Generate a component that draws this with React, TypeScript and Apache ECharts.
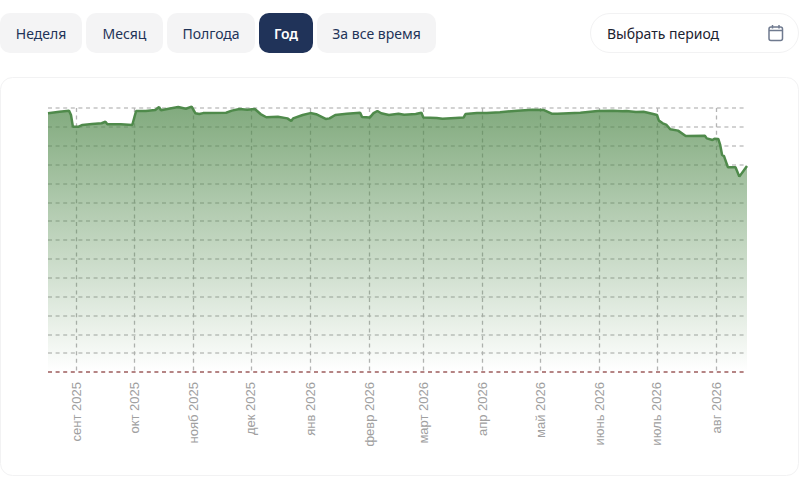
import React, { useEffect, useRef } from "react";
import * as echarts from "echarts";

const tabs = ["Неделя", "Месяц", "Полгода", "Год", "За все время"];
const periodLabel = "Выбрать период";
const monthStarts = ["2025-09-01", "2025-10-01", "2025-11-01", "2025-12-01", "2026-01-01", "2026-02-01", "2026-03-01", "2026-04-01", "2026-05-01", "2026-06-01", "2026-07-01", "2026-08-01"];
const monthLabels = ["сент 2025", "окт 2025", "нояб 2025", "дек 2025", "янв 2026", "февр 2026", "март 2026", "апр 2026", "май 2026", "июнь 2026", "июль 2026", "авг 2026"];

const dates = [
  "2025-08-17", "2025-08-23", "2025-08-28", "2025-08-29", "2025-08-30", "2025-09-02", "2025-09-04", "2025-09-09", "2025-09-14", "2025-09-16", "2025-09-17", "2025-09-24", "2025-09-30",
  "2025-10-02", "2025-10-07", "2025-10-12", "2025-10-14", "2025-10-15", "2025-10-19", "2025-10-24", "2025-10-28", "2025-10-31",
  "2025-11-02", "2025-11-04", "2025-11-06", "2025-11-18", "2025-11-21", "2025-11-25", "2025-11-29",
  "2025-12-03", "2025-12-06", "2025-12-09", "2025-12-15", "2025-12-20", "2025-12-22", "2025-12-23", "2025-12-28",
  "2026-01-01", "2026-01-04", "2026-01-09", "2026-01-11", "2026-01-14", "2026-01-20", "2026-01-27", "2026-01-28",
  "2026-02-01", "2026-02-03", "2026-02-05", "2026-02-07", "2026-02-11", "2026-02-16", "2026-02-19", "2026-02-25", "2026-02-28",
  "2026-03-01", "2026-03-08", "2026-03-11", "2026-03-22", "2026-03-23", "2026-03-29",
  "2026-04-03", "2026-04-10", "2026-04-19", "2026-04-27",
  "2026-05-03", "2026-05-07", "2026-05-10", "2026-05-22", "2026-05-31",
  "2026-06-08", "2026-06-13", "2026-06-15", "2026-06-20", "2026-06-24", "2026-06-29",
  "2026-07-01", "2026-07-02", "2026-07-04", "2026-07-06", "2026-07-08", "2026-07-12", "2026-07-16", "2026-07-17", "2026-07-26", "2026-07-27", "2026-07-30", "2026-07-31",
  "2026-08-02", "2026-08-03", "2026-08-04", "2026-08-05", "2026-08-07", "2026-08-11", "2026-08-13", "2026-08-17",
];
const values = [
  1372, 1380, 1386, 1363, 1301, 1301, 1310, 1315, 1319, 1327, 1314, 1314, 1310,
  1384, 1384, 1389, 1405, 1388, 1396, 1405, 1396, 1407,
  1372, 1368, 1373, 1375, 1386, 1395, 1391,
  1395, 1368, 1351, 1354, 1345, 1331, 1345, 1363,
  1373, 1367, 1342, 1345, 1363, 1370, 1375, 1352,
  1349, 1373, 1384, 1372, 1363, 1370, 1364, 1368, 1375,
  1349, 1347, 1343, 1349, 1368, 1373,
  1373, 1378, 1386, 1391,
  1389, 1370, 1370, 1375, 1384,
  1386, 1383, 1384, 1379, 1380, 1368,
  1363, 1333, 1319, 1310, 1287, 1280, 1252, 1252, 1253, 1239, 1230, 1237,
  1236, 1204, 1151, 1145, 1086, 1086, 1036, 1092,
];

const ts = (d: string) => Date.parse(d + "T00:00:00Z");
const UI_FONT = "'Noto Sans', sans-serif";

function tabGraphics() {
  const boxes = [[0, 82], [86, 77], [167, 88], [259, 54], [317, 119]];
  return tabs.flatMap((label, i) => {
    const [x, w] = boxes[i];
    const active = label === "Год";
    return [
      { type: "rect", shape: { x, y: 13, width: w, height: 40, r: 10 }, style: { fill: active ? "#203359" : "#f4f4f5" } },
      {
        type: "text", x: x + w / 2, y: 33,
        style: { text: label, fill: active ? "#ffffff" : "#1f3358", font: `${active ? 600 : 400} 14px ${UI_FONT}`, textAlign: "center", textVerticalAlign: "middle" },
      },
    ];
  });
}

function chromeGraphics() {
  const icon = { stroke: "#6f7a8f", lineWidth: 1.5, fill: "none" };
  return [
    { type: "rect", shape: { x: 0.5, y: 77.5, width: 798, height: 398, r: 12 }, style: { fill: "none", stroke: "#f2f2f3", lineWidth: 1 }, silent: true },
    ...tabGraphics(),
    { type: "rect", shape: { x: 590.5, y: 13.5, width: 208, height: 39, r: 19.5 }, style: { fill: "#fff", stroke: "#f2f2f3", lineWidth: 1 } },
    { type: "text", x: 607, y: 33, style: { text: periodLabel, fill: "#1c2230", font: `400 14px ${UI_FONT}`, textAlign: "left", textVerticalAlign: "middle" } },
    { type: "rect", shape: { x: 769, y: 27, width: 13.5, height: 13.5, r: 2 }, style: icon },
    { type: "line", shape: { x1: 769, y1: 30.5, x2: 782.5, y2: 30.5 }, style: icon },
    { type: "line", shape: { x1: 772.5, y1: 25, x2: 772.5, y2: 28.5 }, style: icon },
    { type: "line", shape: { x1: 779, y1: 25, x2: 779, y2: 28.5 }, style: icon },
  ];
}

export default function App() {
  const ref = useRef<HTMLDivElement>(null);
  useEffect(() => {
    const chart = echarts.init(ref.current!, undefined, { renderer: "svg" });
    const tickValues = monthStarts.map(ts);
    chart.setOption({
      animation: false,
      grid: { left: 48, right: 60, top: 108, bottom: 120 },
      xAxis: {
        type: "value",
        min: ts(dates[0]),
        max: ts(dates[dates.length - 1]),
        axisLine: { show: true, lineStyle: { color: "#b58484", type: [4, 3.6], cap: "butt", width: 2 } },
        axisTick: { show: false, customValues: tickValues },
        axisLabel: {
          customValues: tickValues,
          rotate: 90,
          margin: 10,
          fontSize: 13,
          color: "#a0a0a0",
          fontFamily: "'Liberation Sans', Arial, sans-serif",
          hideOverlap: false,
          formatter: (v: number) => monthLabels[tickValues.indexOf(v)] ?? "",
        },
        splitLine: { show: true, lineStyle: { color: "#b4b4b4", type: [4, 3.6], width: 1.3 } },
      },
      yAxis: {
        type: "value",
        min: 0,
        max: 1400,
        interval: 100,
        axisLine: { show: false },
        axisTick: { show: false },
        axisLabel: { show: false },
        splitLine: { show: true, showMinLine: false, lineStyle: { color: "#c4c4c4", type: [4, 3.6], width: 1.6 } },
      },
      series: [
        {
          type: "line",
          clip: false,
          data: dates.map((d, i) => [ts(d), values[i]]),
          showSymbol: false,
          smooth: false,
          lineStyle: { color: "#4f8a4b", width: 2.5 },
          areaStyle: {
            opacity: 1,
            color: new echarts.graphic.LinearGradient(0, 0, 0, 1, [
              { offset: 0, color: "rgba(80,137,75,0.72)" },
              { offset: 1, color: "rgba(80,137,75,0)" },
            ]),
          },
        },
      ],
      graphic: chromeGraphics(),
    });
    return () => chart.dispose();
  }, []);
  return <div ref={ref} style={{ position: "fixed", left: 0, top: 0, width: 807, height: 492, background: "#fff" }} />;
}
